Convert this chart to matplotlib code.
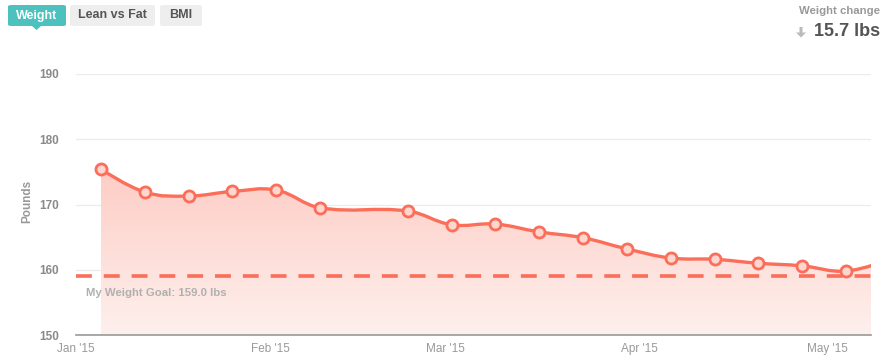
import numpy as np
import matplotlib.pyplot as plt
import matplotlib.dates as mdates
from matplotlib.path import Path
from matplotlib.patches import PathPatch, FancyBboxPatch, Polygon
from datetime import datetime

plt.rcParams['font.family'] = ['Liberation Sans', 'DejaVu Sans']

# dados
dates = ['2015-01-05', '2015-01-12', '2015-01-19', '2015-01-26', '2015-02-02',
         '2015-02-09', '2015-02-23', '2015-03-02', '2015-03-09', '2015-03-16',
         '2015-03-23', '2015-03-30', '2015-04-06', '2015-04-13', '2015-04-20',
         '2015-04-27', '2015-05-04', '2015-05-11']
weights = [175.4, 171.9, 171.3, 172.0, 172.2,
           169.5, 169.0, 166.9, 167.0, 165.8,
           164.9, 163.2, 161.8, 161.6, 161.0,
           160.6, 159.8, 161.6]
goal = 159.0
tick_dates = ['2015-01-01', '2015-02-01', '2015-03-01', '2015-04-01', '2015-05-01']
tick_labels = ["Jan '15", "Feb '15", "Mar '15", "Apr '15", "May '15"]
y_ticks = [150, 160, 170, 180, 190]

line_color = '#fa6e5a'
fill_top = '#fdc9c1'
fill_bot = '#fef0ed'

x = np.array([mdates.date2num(datetime.strptime(d, '%Y-%m-%d')) for d in dates])
y = np.array(weights)
x_min = mdates.date2num(datetime(2015, 1, 1))
x_max = mdates.date2num(datetime(2015, 5, 8))


def spline_path(xs, ys, smoothing=1.5):
    # curva suavizada estilo "spline" (bezier cubica entre os pontos)
    n = len(xs)
    lc = [(xs[i], ys[i]) for i in range(n)]
    rc = [(xs[i], ys[i]) for i in range(n)]
    den = smoothing + 1
    for i in range(1, n - 1):
        px, py = xs[i], ys[i]
        lx = (smoothing * px + xs[i - 1]) / den
        ly = (smoothing * py + ys[i - 1]) / den
        rx = (smoothing * px + xs[i + 1]) / den
        ry = (smoothing * py + ys[i + 1]) / den
        corr = ((ry - ly) * (rx - px)) / (rx - lx) + py - ry
        ly += corr
        ry += corr
        lc[i] = (lx, ly)
        rc[i] = (rx, ry)
    verts = [(xs[0], ys[0])]
    codes = [Path.MOVETO]
    for i in range(1, n):
        verts += [rc[i - 1], lc[i], (xs[i], ys[i])]
        codes += [Path.CURVE4] * 3
    return verts, codes


fig = plt.figure(figsize=(8.9, 3.59), dpi=100)
ax = fig.add_axes([76 / 890, 1 - 335 / 359, (871 - 76) / 890, (335 - 74) / 359])

ax.set_xlim(x_min, x_max)
ax.set_ylim(150, 190)

verts, codes = spline_path(x, y)

# area com gradiente
fverts = verts + [(x[-1], 150), (x[0], 150), (x[0], y[0])]
fcodes = codes + [Path.LINETO, Path.LINETO, Path.CLOSEPOLY]
fill_patch = PathPatch(Path(fverts, fcodes), facecolor='none', edgecolor='none')
ax.add_patch(fill_patch)
c1 = np.array(plt.matplotlib.colors.to_rgb(fill_top))
c2 = np.array(plt.matplotlib.colors.to_rgb(fill_bot))
t = np.linspace(0, 1, 256)[:, None]
grad = (c1[None, :] * (1 - t) + c2[None, :] * t)[:, None, :]
im = ax.imshow(grad, extent=[x_min, x_max, 150, 178], aspect='auto', origin='upper', zorder=1)
im.set_clip_path(fill_patch)

ax.add_patch(PathPatch(Path(verts, codes), facecolor='none', edgecolor=line_color,
                       lw=2.4, zorder=3, capstyle='round', joinstyle='round'))
ax.plot(x[:-1], y[:-1], 'o', ms=8, mfc='#fdd6d0', mec=line_color, mew=2.0, zorder=4)

# meta
ax.axhline(goal, color=line_color, lw=2.6, dashes=(4.4, 3.3), zorder=2)
ax.text(x_min + 1.6, goal - 2.6, 'My Weight Goal: 159.0 lbs', color='#b0b0b0',
        fontsize=8.2, fontweight='bold', va='center', ha='left', zorder=5)

ax.set_yticks(y_ticks)
ax.set_yticklabels([str(v) for v in y_ticks])
ax.set_xticks([mdates.date2num(datetime.strptime(d, '%Y-%m-%d')) for d in tick_dates])
ax.set_xticklabels(tick_labels)
ax.tick_params(axis='y', length=0, pad=12, labelsize=8.5, labelcolor='#8a8a8a')
ax.tick_params(axis='x', length=0, pad=6, labelsize=8.5, labelcolor='#999999')
for lab in ax.get_yticklabels():
    lab.set_fontweight('bold')
ax.grid(axis='y', color='#ebebeb', lw=0.9, zorder=0)
ax.set_axisbelow(True)
for s in ['top', 'right', 'left']:
    ax.spines[s].set_visible(False)
ax.spines['bottom'].set_color('#999999')
ax.spines['bottom'].set_linewidth(1.2)
ax.spines['bottom'].set_zorder(6)
fig.text(27 / 890, 1 - 201 / 359, 'Pounds', color='#999999', fontsize=8.5,
         fontweight='bold', rotation=90, ha='center', va='center')

# botoes do topo
def button(x0, x1, label, bg, fg):
    fig.patches.append(FancyBboxPatch((x0 / 890, 1 - 26 / 359), (x1 - x0) / 890, 21 / 359,
                                      boxstyle='round,pad=0,rounding_size=0.004',
                                      transform=fig.transFigure, facecolor=bg, edgecolor='none'))
    fig.text((x0 + x1) / 2 / 890, 1 - 15.5 / 359, label, color=fg, fontsize=9,
             fontweight='bold', ha='center', va='center')

button(8, 66, 'Weight', '#4cc1be', 'white')
button(70, 155, 'Lean vs Fat', '#eeeeee', '#555555')
button(160, 202, 'BMI', '#eeeeee', '#555555')
fig.patches.append(Polygon([(32 / 890, 1 - 26 / 359), (41 / 890, 1 - 26 / 359), (36.5 / 890, 1 - 30 / 359)],
                           closed=True, transform=fig.transFigure, facecolor='#4cc1be', edgecolor='none'))

fig.text(880 / 890, 1 - 11 / 359, 'Weight change', color='#999999', fontsize=8.2,
         fontweight='bold', ha='right', va='center')
fig.text(880 / 890, 1 - 32 / 359, '15.7 lbs', color='#555555', fontsize=13,
         fontweight='bold', ha='right', va='center')
# seta para baixo
arrow = [(799.5, 27), (802.5, 27), (802.5, 32.5), (806, 32.5), (801, 37.5), (796, 32.5), (799.5, 32.5)]
fig.patches.append(Polygon([(a / 890, 1 - b / 359) for a, b in arrow], closed=True,
                           transform=fig.transFigure, facecolor='#bbbbbb', edgecolor='none'))

plt.savefig('out.png', dpi=100)
